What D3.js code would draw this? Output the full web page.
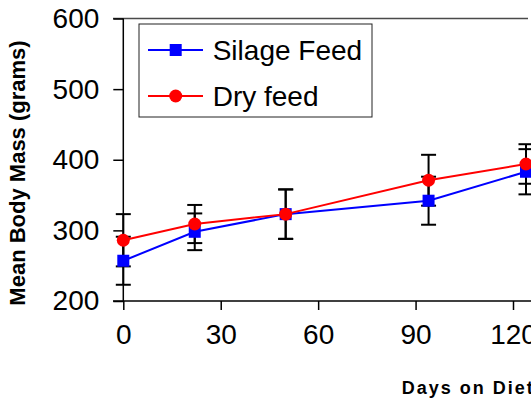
<!DOCTYPE html>
<html>
<head>
<meta charset="utf-8">
<script src="https://cdn.jsdelivr.net/npm/d3@7/dist/d3.min.js"></script>
<style>
  html, body { margin: 0; padding: 0; background: #fff; overflow: hidden; }
  svg { display: block; font-family: Arial, "Liberation Sans", sans-serif; }
</style>
</head>
<body>
<svg id="chart" width="531" height="405"></svg>
<script>
// ---- data ----
const days = [0, 22, 50, 94, 124];
const silage = [257, 298, 323, 342, 383];
const silageErr = [34, 26, 35, 34, 32];
const dry = [286, 309, 323, 371, 394];
const dryErr = [37, 27, 35, 36, 28];
const xTicks = [0, 30, 60, 90, 120];
const yTicks = [200, 300, 400, 500, 600];
const seriesNames = ["Silage Feed", "Dry feed"];
const seriesColors = ["#0000ff", "#ff0000"];

const svg = d3.select("#chart");
const x = d3.scaleLinear().domain([0, 120]).range([123.3, 513]);
const y = d3.scaleLinear().domain([200, 600]).range([301, 18.5]);

// top frame line
svg.append("line").attr("x1", 113).attr("x2", 528).attr("y1", y(600)).attr("y2", y(600))
  .attr("stroke", "#4a4a4a").attr("stroke-width", 1.5);

// y axis
const yAxis = svg.append("g").attr("transform", `translate(${x(0)},0)`)
  .call(d3.axisLeft(y).tickValues(yTicks).tickSize(10).tickPadding(14).tickSizeOuter(0));
yAxis.select(".domain").remove();
yAxis.selectAll(".tick line").attr("stroke", "#000").attr("stroke-width", 1.5);
yAxis.selectAll("text").attr("font-size", 28).attr("fill", "#000")
  .attr("font-family", "Arial, 'Liberation Sans', sans-serif");
svg.append("line").attr("x1", x(0)).attr("x2", x(0)).attr("y1", y(600)).attr("y2", y(200))
  .attr("stroke", "#000").attr("stroke-width", 1.5);

// x axis
const xAxis = svg.append("g").attr("transform", `translate(0,${y(200)})`)
  .call(d3.axisBottom(x).tickValues(xTicks).tickSize(9).tickPadding(14).tickSizeOuter(0));
xAxis.select(".domain").remove();
xAxis.selectAll(".tick line").attr("stroke", "#000").attr("stroke-width", 1.5);
xAxis.selectAll("text").attr("font-size", 28).attr("fill", "#000")
  .attr("font-family", "Arial, 'Liberation Sans', sans-serif");
svg.append("line").attr("x1", 113).attr("x2", 531).attr("y1", y(200)).attr("y2", y(200))
  .attr("stroke", "#000").attr("stroke-width", 1.5);

// axis titles
svg.append("text").attr("x", 401.7).attr("y", 394).attr("font-size", 18).attr("font-weight", "bold")
  .attr("letter-spacing", "2px").attr("fill", "#000").text("Days on Diet");
svg.append("text").attr("transform", "translate(25,173) rotate(-90)").attr("text-anchor", "middle")
  .attr("font-size", 22).attr("font-weight", "bold").attr("fill", "#000").text("Mean Body Mass (grams)");

// error bars
const capHalf = 7.5;
function errorBars(vals, errs) {
  const g = svg.append("g").attr("stroke", "#000").attr("stroke-width", 2);
  days.forEach((d, i) => {
    const cx = x(d), top = y(vals[i] + errs[i]), bot = y(vals[i] - errs[i]);
    g.append("line").attr("x1", cx).attr("x2", cx).attr("y1", top).attr("y2", bot);
    g.append("line").attr("x1", cx - capHalf).attr("x2", cx + capHalf).attr("y1", top).attr("y2", top);
    g.append("line").attr("x1", cx - capHalf).attr("x2", cx + capHalf).attr("y1", bot).attr("y2", bot);
  });
}
errorBars(silage, silageErr);
errorBars(dry, dryErr);

const line = d3.line().x((d, i) => x(days[i])).y(d => y(d));

// silage series
svg.append("path").datum(silage).attr("d", line).attr("fill", "none")
  .attr("stroke", seriesColors[0]).attr("stroke-width", 2);
svg.append("g").selectAll("rect").data(silage).join("rect")
  .attr("x", (d, i) => x(days[i]) - 6).attr("y", d => y(d) - 6)
  .attr("width", 12).attr("height", 12).attr("fill", seriesColors[0]);

// dry series
svg.append("path").datum(dry).attr("d", line).attr("fill", "none")
  .attr("stroke", seriesColors[1]).attr("stroke-width", 2);
svg.append("g").selectAll("circle").data(dry).join("circle")
  .attr("cx", (d, i) => x(days[i])).attr("cy", d => y(d)).attr("r", 6.5)
  .attr("fill", seriesColors[1]);

// legend
const lg = svg.append("g");
lg.append("rect").attr("x", 139).attr("y", 24).attr("width", 233).attr("height", 93)
  .attr("fill", "#fff").attr("stroke", "#222").attr("stroke-width", 1);
const rowsY = [50, 96];
seriesNames.forEach((name, i) => {
  lg.append("line").attr("x1", 148).attr("x2", 203).attr("y1", rowsY[i]).attr("y2", rowsY[i])
    .attr("stroke", seriesColors[i]).attr("stroke-width", 2);
  if (i === 0) {
    lg.append("rect").attr("x", 175.7 - 6).attr("y", rowsY[i] - 6).attr("width", 12).attr("height", 12)
      .attr("fill", seriesColors[i]);
  } else {
    lg.append("circle").attr("cx", 175.7).attr("cy", rowsY[i]).attr("r", 6.5).attr("fill", seriesColors[i]);
  }
  lg.append("text").attr("x", 212.7).attr("y", rowsY[i] + 10).attr("font-size", 28)
    .attr("fill", "#000").text(name);
});
</script>
</body>
</html>
